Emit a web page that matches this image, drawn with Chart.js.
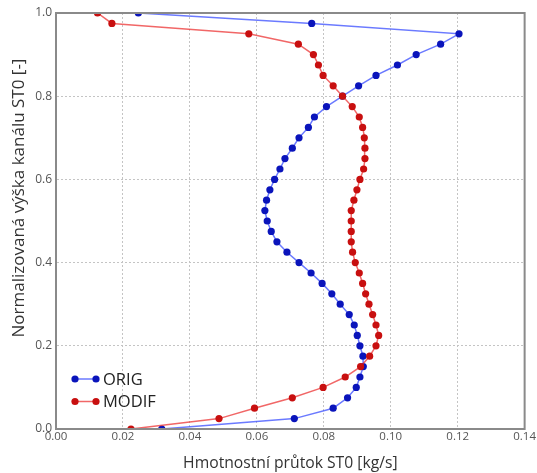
<!DOCTYPE html>
<html>
<head>
<meta charset="utf-8">
<script src="https://cdn.jsdelivr.net/npm/chart.js@4"></script>
<style>
  html, body { margin: 0; padding: 0; background: #fff; }
  #wrap { width: 537px; height: 473px; }
</style>
</head>
<body>
<div id="wrap"><canvas id="chart"></canvas></div>
<script>
// normalized channel height (y axis)
const heights = [0, 0.025, 0.05, 0.075, 0.1, 0.125, 0.15, 0.175, 0.2, 0.225,
  0.25, 0.275, 0.3, 0.325, 0.35, 0.375, 0.4, 0.425, 0.45, 0.475,
  0.5, 0.525, 0.55, 0.575, 0.6, 0.625, 0.65, 0.675, 0.7, 0.725,
  0.75, 0.775, 0.8, 0.825, 0.85, 0.875, 0.9, 0.925, 0.95, 0.975, 1.0];

// mass flow [kg/s], bottom to top
const origFlow = [0.0316, 0.0712, 0.0828, 0.0871, 0.0897, 0.0908, 0.0918, 0.0917, 0.0908, 0.0900,
  0.0891, 0.0876, 0.0849, 0.0824, 0.0795, 0.0762, 0.0726, 0.0690, 0.0660, 0.0643,
  0.0631, 0.0624, 0.0629, 0.0639, 0.0653, 0.0669, 0.0684, 0.0706, 0.0726, 0.0754,
  0.0772, 0.0808, 0.0856, 0.0904, 0.0956, 0.1020, 0.1076, 0.1149, 0.1204, 0.0764, 0.0246];

const modifFlow = [0.0224, 0.0487, 0.0593, 0.0706, 0.0798, 0.0864, 0.0910, 0.0937, 0.0956, 0.0964,
  0.0956, 0.0946, 0.0935, 0.0925, 0.0916, 0.0906, 0.0894, 0.0886, 0.0882, 0.0882,
  0.0882, 0.0882, 0.0890, 0.0899, 0.0908, 0.0919, 0.0923, 0.0923, 0.0921, 0.0916,
  0.0906, 0.0885, 0.0856, 0.0828, 0.0798, 0.0784, 0.0769, 0.0724, 0.0576, 0.0167, 0.0124];

const xTicks = [0, 0.02, 0.04, 0.06, 0.08, 0.10, 0.12, 0.14];
const yTicks = [0, 0.2, 0.4, 0.6, 0.8, 1.0];

const seriesNames = ['ORIG', 'MODIF'];
const lineColors = ['rgba(50, 70, 255, 0.72)', 'rgba(235, 45, 45, 0.72)'];
const pointColors = ['#0a14bb', '#c80f0f'];

const FONT = '"Open Sans", "DejaVu Sans", sans-serif';
const yTitle = 'Normalizovaná výška kanálu ST0 [-]';

function toPoints(xs) {
  return xs.map((v, i) => ({ x: v, y: heights[i] }));
}

// legend drawn inside the plot, lower left, line with a marker at each end
const insideLegend = {
  id: 'insideLegend',
  afterDatasetsDraw(chart) {
    const ctx = chart.ctx;
    const area = chart.chartArea;
    ctx.save();
    seriesNames.forEach((name, i) => {
      const y = area.bottom - 50 + i * 22.5;
      const x0 = area.left + 19;
      const x1 = area.left + 40;
      ctx.strokeStyle = lineColors[i];
      ctx.lineWidth = 1.5;
      ctx.beginPath();
      ctx.moveTo(x0, y);
      ctx.lineTo(x1, y);
      ctx.stroke();
      ctx.fillStyle = pointColors[i];
      [x0, x1].forEach(px => {
        ctx.beginPath();
        ctx.arc(px, y, 3.6, 0, Math.PI * 2);
        ctx.fill();
      });
      ctx.fillStyle = '#222';
      ctx.font = '16.5px ' + FONT;
      ctx.textBaseline = 'middle';
      ctx.textAlign = 'left';
      ctx.fillText(name, x1 + 7, y + 1);
    });
    ctx.restore();
  }
};

// plot frame and the rotated y title
const frame = {
  id: 'frame',
  afterDraw(chart) {
    const c = chart.ctx;
    const a = chart.chartArea;
    c.save();
    c.strokeStyle = '#8a8a8a';
    c.lineWidth = 2;
    c.strokeRect(a.left, a.top, a.right - a.left, a.bottom - a.top);
    c.translate(19, 198);
    c.rotate(-Math.PI / 2);
    c.fillStyle = '#333';
    c.font = '17px ' + FONT;
    c.textAlign = 'center';
    c.textBaseline = 'middle';
    c.fillText(yTitle, 0, 0);
    c.restore();
  }
};

const ctx = document.getElementById('chart').getContext('2d');
new Chart(ctx, {
  type: 'line',
  data: {
    datasets: [
      {
        label: seriesNames[0],
        data: toPoints(origFlow),
        borderColor: lineColors[0],
        backgroundColor: pointColors[0],
        pointBackgroundColor: pointColors[0],
        pointBorderWidth: 0,
        pointRadius: 3.6,
        borderWidth: 1.5,
        tension: 0,
        order: 2
      },
      {
        label: seriesNames[1],
        data: toPoints(modifFlow),
        borderColor: lineColors[1],
        backgroundColor: pointColors[1],
        pointBackgroundColor: pointColors[1],
        pointBorderWidth: 0,
        pointRadius: 3.6,
        borderWidth: 1.5,
        tension: 0,
        order: 1
      }
    ]
  },
  options: {
    responsive: true,
    maintainAspectRatio: false,
    animation: false,
    layout: { padding: { top: 13, right: 12, left: 0, bottom: 0 } },
    scales: {
      x: {
        type: 'linear',
        min: 0,
        max: 0.14,
        afterFit: scale => { scale.height = 44; },
        afterBuildTicks: scale => { scale.ticks = xTicks.map(v => ({ value: v })); },
        ticks: {
          color: '#555',
          font: { family: FONT, size: 11.5 },
          padding: 1,
          maxRotation: 0,
          callback: v => v.toFixed(2)
        },
        grid: {
          color: '#c4c4c4',
          lineWidth: 1,
          drawTicks: false
        },
        border: { color: '#8a8a8a', width: 2, dash: [2, 2] },
        title: {
          display: true,
          text: 'Hmotnostní průtok ST0 [kg/s]',
          color: '#333',
          font: { family: FONT, size: 15.7 },
          padding: { top: 5, bottom: 0 }
        }
      },
      y: {
        type: 'linear',
        min: 0,
        max: 1,
        afterFit: scale => { scale.width = 56; },
        afterBuildTicks: scale => { scale.ticks = yTicks.map(v => ({ value: v })); },
        ticks: {
          color: '#555',
          font: { family: FONT, size: 12 },
          padding: 4,
          callback: v => v.toFixed(1)
        },
        grid: {
          color: '#c4c4c4',
          lineWidth: 1,
          drawTicks: false
        },
        border: { color: '#8a8a8a', width: 2, dash: [2, 2] },
        title: { display: false }
      }
    },
    plugins: {
      legend: { display: false },
      tooltip: { enabled: false }
    }
  },
  plugins: [insideLegend, frame]
});
</script>
</body>
</html>
